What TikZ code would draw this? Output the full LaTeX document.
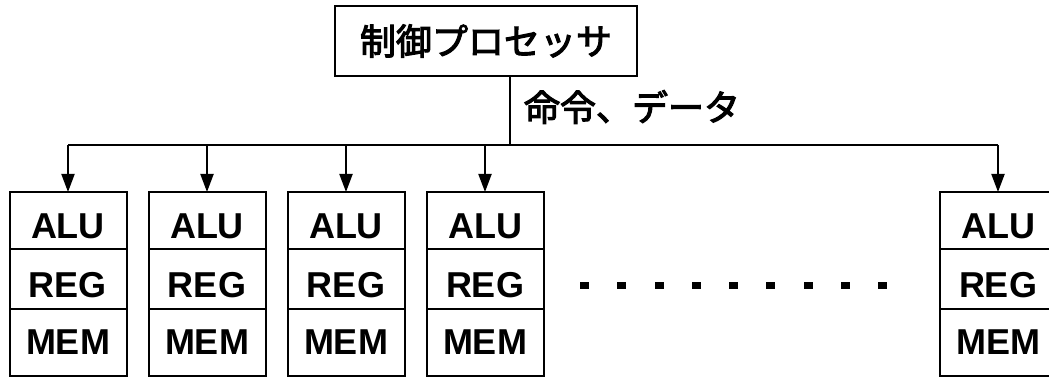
\documentclass[tikz,border=0pt]{standalone}
\usepackage{fontspec}
\setmainfont{Liberation Sans}
\newfontfamily\cjk[FakeBold=3]{Noto Sans CJK JP}
\usetikzlibrary{arrows.meta}
\begin{document}
\begin{tikzpicture}[x=1pt,y=-1pt,line width=2pt,
  cell/.style={draw,minimum width=117pt,inner sep=0pt,outer sep=0pt,anchor=north,font=\fontsize{36}{40}\selectfont\bfseries},
  low/.style={text height=37pt,text depth=0pt},
  jp/.style={font=\cjk\fontsize{36}{40}\selectfont},
  feed/.style={-{Triangle[length=18pt,width=13pt]}}]
\useasboundingbox (0,0) rectangle (1049,379);
\node[draw,jp,minimum width=302pt,minimum height=70pt,outer sep=0pt] (ctrl) at (486,41) {制御プロセッサ};
\coordinate (tap) at (510,145);
\draw (ctrl.south -| tap) -- (tap);
\node[jp,anchor=west,inner sep=0pt] (cmd) at (523,107) {命令、データ};
% processing elements
\foreach \i/\x in {1/68,2/207,3/346,4/485,5/998} {
  \node[cell,low,minimum height=57pt] (alu\i) at (\x,192) {ALU};
  \node[cell,low,minimum height=60pt] (reg\i) at (alu\i.south) {REG};
  \node[cell,minimum height=67pt] (mem\i) at (reg\i.south) {MEM};
  \draw[feed] (alu\i.north |- tap) -- (alu\i.north);
}
\draw (alu1.north |- tap) -- (alu5.north |- tap);
\foreach \k in {0,...,8} \fill (580+\k*37.25,282) rectangle ++(9,7);
\end{tikzpicture}
\end{document}
